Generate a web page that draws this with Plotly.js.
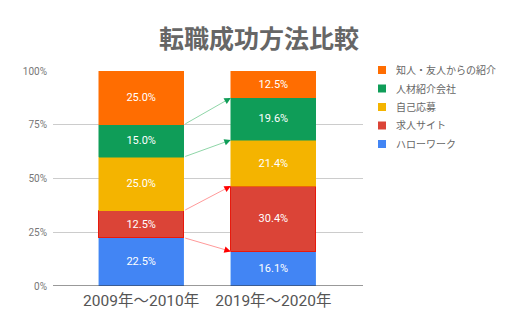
<!DOCTYPE html>
<html><head><meta charset="utf-8">
<script src="https://cdn.plot.ly/plotly-3.0.1.min.js"></script>
<style>html,body{margin:0;padding:0;background:#fff}#chart{width:512px;height:331px}</style>
</head><body><div id="chart"></div>
<script>
const categories = ["2009年～2010年", "2019年～2020年"];
const seriesNames = ["ハローワーク", "求人サイト", "自己応募", "人材紹介会社", "知人・友人からの紹介"];
const hellowork = [22.5, 16.1];
const jobSites = [12.5, 30.4];
const selfApply = [25.0, 21.4];
const agency = [15.0, 19.6];
const referral = [25.0, 12.5];
const yTicks = [0, 25, 50, 75, 100];
const yTickLabels = ["0%", "25%", "50%", "75%", "100%"];

const colors = ["#4285F4", "#DB4437", "#F4B400", "#0F9D58", "#FF6D01"];
const lineColors = ["#5a9bf6", "#e8190c", "#f4b400", "#0f9d58", "#ff6d01"];
const seriesValues = [hellowork, jobSites, selfApply, agency, referral];
const FONT = "Roboto, 'Noto Sans CJK JP', sans-serif";
const BW = 0.644;

const W = 512, H = 331, ML = 53, MR = 149, MT = 71, MB = 45;
const PW = W - ML - MR, PH = H - MT - MB;
const px2x = p => (p - ML) / PW;
const px2y = p => (H - MB - p) / PH;

const traces = seriesValues.map((vals, i) => ({
  type: "bar",
  name: seriesNames[i],
  x: [0, 1],
  y: vals,
  width: BW,
  marker: {color: colors[i], line: {color: lineColors[i], width: i === 1 ? 1 : 0.5}},
  text: vals.map(v => v.toFixed(1) + "%"),
  textposition: "inside",
  insidetextanchor: "middle",
  textfont: {color: "#ffffff", size: 11, family: FONT},
  hoverinfo: "skip",
  showlegend: false
}));

function cum(idx, col) { let s = 0; for (let k = 0; k <= idx; k++) s += seriesValues[k][col]; return s; }
const x0 = BW / 2, x1 = 1 - BW / 2;
const arrows = [
  {lo: cum(0, 0), hi: cum(0, 1), light: "#ff9a9a", dark: "#ff0000"},
  {lo: cum(1, 0), hi: cum(1, 1), light: "#ff9a9a", dark: "#ff0000"},
  {lo: cum(2, 0), hi: cum(2, 1), light: "#8fd6a8", dark: "#0f9d58"},
  {lo: cum(3, 0), hi: cum(3, 1), light: "#8fd6a8", dark: "#0f9d58"}
];
const annotations = [];
const shapes = [{type: "line", xref: "paper", yref: "y", x0: 0, x1: 1, y0: 0, y1: 0, line: {color: "#333333", width: 1}}];
arrows.forEach(a => {
  annotations.push({x: x1, y: a.hi, ax: x0, ay: a.lo, xref: "x", yref: "y", axref: "x", ayref: "y",
    showarrow: true, arrowhead: 0, arrowwidth: 1, arrowcolor: a.light, text: ""});
  const f = 0.88;
  annotations.push({x: x1, y: a.hi, ax: x0 + (x1 - x0) * f, ay: a.lo + (a.hi - a.lo) * f, xref: "x", yref: "y", axref: "x", ayref: "y",
    showarrow: true, arrowhead: 2, arrowsize: 1.3, arrowwidth: 1, arrowcolor: a.dark, text: ""});
});

// legend (top entry = last series)
for (let r = 0; r < seriesNames.length; r++) {
  const i = seriesNames.length - 1 - r;
  const cy = 70 + r * 18.5;
  shapes.push({type: "rect", xref: "paper", yref: "paper", x0: px2x(378), x1: px2x(386),
    y0: px2y(cy + 4), y1: px2y(cy - 4), fillcolor: colors[i], line: {width: 0}});
  annotations.push({xref: "paper", yref: "paper", x: px2x(394), y: px2y(cy), xanchor: "left", yanchor: "middle",
    showarrow: false, text: seriesNames[i], font: {family: FONT, size: 10, color: "#666666"}});
}

const layout = {
  width: W, height: H,
  margin: {l: ML, r: MR, t: MT, b: MB, pad: 0},
  paper_bgcolor: "#fff", plot_bgcolor: "#fff",
  barmode: "stack",
  showlegend: false,
  title: {text: "<b>転職成功方法比較</b>", x: 0.506, xanchor: "center", y: 0.88, yanchor: "middle",
    font: {family: FONT, size: 25, color: "#666666"}},
  xaxis: {range: [-0.667, 1.678], tickvals: [0, 1], ticktext: categories, showgrid: false, zeroline: false,
    showline: false, ticks: "", ticklabelstandoff: 3, tickfont: {family: FONT, size: 15.5, color: "#555555"}, fixedrange: true},
  yaxis: {range: [0, 100], tickvals: yTicks, ticktext: yTickLabels, gridcolor: "#cccccc", gridwidth: 1,
    zeroline: false, showline: false, ticks: "", ticklabelstandoff: 5,
    tickfont: {family: FONT, size: 10, color: "#777777"}, fixedrange: true},
  shapes: shapes,
  annotations: annotations
};

Plotly.newPlot("chart", traces, layout, {displayModeBar: false, staticPlot: true});
</script></body></html>
